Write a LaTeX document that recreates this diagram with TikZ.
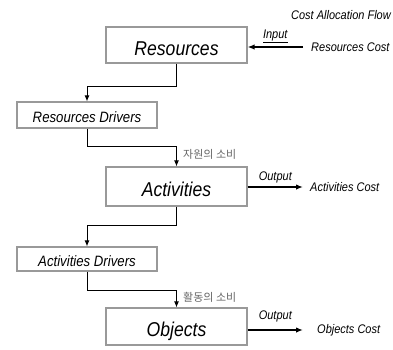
\documentclass[tikz,border=0pt]{standalone}
\usepackage{fontspec}
\newfontfamily\diafont[FakeStretch=0.88]{Liberation Sans}
\newfontfamily\krfont{Noto Sans CJK KR}
\usetikzlibrary{arrows.meta}

\tikzset{
  caja/.style={draw=black!40, line width=1.2pt, fill=white, inner sep=0pt,
    minimum width=141pt, text height=20pt, text depth=0pt,
    font={\diafont\itshape\fontsize{20}{24}\selectfont}},
  cajadrv/.style={caja, minimum width=140pt, text height=15pt,
    font={\diafont\itshape\fontsize{15}{18}\selectfont}},
  etiq/.style={inner sep=0pt, font={\diafont\itshape\fontsize{12.5}{15}\selectfont}},
  kor/.style={inner sep=0pt, text=black!60, font={\krfont\fontsize{11}{13}\selectfont}},
  enlace/.style={line width=0.9pt, -{Latex[length=6pt,width=5pt]}},
  flujo/.style={line width=1.6pt, -{Latex[length=7pt,width=5.5pt]}}
}

\begin{document}
\begin{tikzpicture}[x=1pt,y=-1pt]
    \useasboundingbox (0,0) rectangle (393,349);

    % Titulo
    \node[etiq, anchor=east] (titulo) at (391,15) {Cost Allocation Flow};

    % Cajas
    \node[caja, minimum height=36pt] (res) at (176.5,45) {Resources};
    \node[cajadrv, minimum height=26pt] (resdrv) at (87,115) {Resources Drivers};
    \node[caja, minimum height=39pt] (act) at (176.5,186.5) {Activities};
    \node[cajadrv, minimum height=24pt] (actdrv) at (87,259) {Activities Drivers};
    \node[caja, minimum height=37pt] (obj) at (176.5,326.5) {Objects};

    % Costos
    \node[etiq, anchor=west, inner xsep=8pt] (rescost) at (303,47) {Resources Cost};
    \node[etiq, anchor=west, inner xsep=7pt] (actcost) at (303,187) {Activities Cost};
    \node[etiq, anchor=west, inner xsep=14pt] (objcost) at (303,330) {Objects Cost};

    % Entrada y salidas
    \draw[flujo] (rescost.west) -- (res.east |- rescost.west)
        node[etiq, midway, above, yshift=3pt] {\underline{Input}};
    \draw[flujo] (act.east |- actcost.west) -- (actcost.west)
        node[etiq, midway, above, yshift=3pt] {Output};
    \draw[flujo] (obj.east |- objcost.west) -- (objcost.west)
        node[etiq, midway, above, yshift=7pt] {Output};

    % Enlaces
    \draw[enlace] (res.south) -- ++(0,23) -| (resdrv.north);
    \draw[enlace] (resdrv.south) -- ++(0,18) -| (act.north);
    \draw[enlace] (act.south) -- ++(0,19) -| (actdrv.north);
    \draw[enlace] (actdrv.south) -- ++(0,19) -| (obj.north);

    % Consumo
    \node[kor, anchor=west] (consres) at (183,154) {자원의 소비};
    \node[kor, anchor=west] (consact) at (183,297) {활동의 소비};
\end{tikzpicture}
\end{document}
